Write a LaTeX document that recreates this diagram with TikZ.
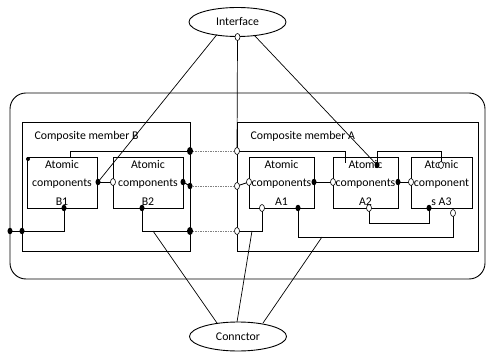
\documentclass[tikz,border=0pt]{standalone}
\usepackage{fontspec}
\setmainfont{Carlito}
\usetikzlibrary{shapes.geometric}
\begin{document}
\begin{tikzpicture}[x=1pt,y=-1pt,
  txt/.style={font=\fontsize{11.8}{18.5}\selectfont},
  frame/.style={draw, line width=0.9pt},
  wire/.style={draw, line width=0.9pt},
  thin/.style={draw, line width=0.7pt},
  link/.style={draw, gray, line width=0.8pt, dash pattern=on 1.5pt off 1pt},
  abox/.style={draw, line width=0.9pt, rectangle, inner sep=0pt, align=center, txt},
  oval/.style={draw, ellipse, line width=0.9pt, minimum width=97pt, minimum height=29pt, inner sep=0pt, txt},
  blk/.style={fill=black, ellipse, inner sep=0pt, minimum width=5pt, minimum height=6.5pt},
  bigblk/.style={fill=black, ellipse, inner sep=0pt, minimum width=6pt, minimum height=8pt},
  opn/.style={draw, fill=white, ellipse, inner sep=0pt, minimum width=5pt, minimum height=7pt, line width=0.6pt},
  tiny/.style={fill=black, circle, inner sep=0pt, minimum size=4pt}]
\useasboundingbox (0,0) rectangle (486,352);

% outer system boundary
\draw[frame, rounded corners=16pt] (10,93) rectangle (485,279);

% composite members
\draw[frame] (22,122) rectangle (190,251);
\draw[frame] (237,122) rectangle (478,251);
\node[txt, anchor=west] (labB) at (31,136) {Composite member B};
\node[txt, anchor=west] (labA) at (247,136) {Composite member A};

% atomic components
\node[abox, minimum width=70pt, minimum height=51pt] (B1) at (62,182.5) {Atomic\\components\\B1};
\node[abox, minimum width=70pt, minimum height=51pt] (B2) at (148,182.5) {Atomic\\components\\B2};
\node[abox, minimum width=65pt, minimum height=51pt] (A1) at (281.5,182.5) {Atomic\\components\\A1};
\node[abox, minimum width=65pt, minimum height=51pt] (A2) at (365.5,182.5) {Atomic\\components\\A2};
\node[abox, minimum width=61pt, minimum height=51pt] (A3) at (441.5,182.5) {Atomic\\component\\s A3};

% interface and connector
\node[oval] (IF) at (237.5,22) {Interface};
\node[oval] (CN) at (238,336.5) {Connctor};

% bend points of the wiring
\coordinate (w1) at (70,151);
\coordinate (w1e) at (70,157);
\coordinate (w2) at (64,231);
\coordinate (w3) at (142,231);
\coordinate (w4) at (345,151);
\coordinate (w4e) at (345,163);
\coordinate (w5) at (377,151);
\coordinate (w6) at (441,151);
\coordinate (w7) at (369,223);
\coordinate (w8) at (429,223);
\coordinate (w9) at (298,237);
\coordinate (w10) at (453,237);
\coordinate (w11) at (262,231);
\coordinate (c1) at (153,231);
\coordinate (c2) at (252,231);
\coordinate (c3) at (322,237);
\coordinate (i1) at (217,34.5);
\coordinate (i3) at (254,35);
\coordinate (k1) at (217,323);
\coordinate (k2) at (237,322);
\coordinate (k3) at (263,323);

% wires inside member B
\draw[wire] (190,151) -- (w1) -- (w1e);
\draw[wire] (98,182) -- (113,182);
\draw[wire] (64,208) -- (w2) -- (10,231);
\draw[wire] (142,208) -- (w3) -- (190,231);
\draw[wire] (183,182) -- (190,186);

% wires inside member A
\draw[wire] (237,151) -- (w4) -- (w4e);
\draw[wire] (237,186) -- (249,182);
\draw[wire] (314,182) -- (333,182);
\draw[wire] (398,182) -- (411,182);
\draw[wire] (377,165) -- (w5) -- (w6) -- (441,165);
\draw[wire] (369,208) -- (w7) -- (w8) -- (429,208);
\draw[wire] (298,208) -- (w9) -- (w10) -- (453,213);
\draw[wire] (262,208) -- (w11) -- (237,231);

% links between the two members
\draw[link] (190,151) -- (237,151);
\draw[link] (190,186) -- (237,186);
\draw[link] (190,231) -- (237,231);

% interface and connector lines
\draw[thin] (i1) -- (98,182);
\draw[thin] (237.5,37) -- (237,151);
\draw[thin] (i3) -- (377,165);
\draw[thin] (k1) -- (c1);
\draw[thin] (k2) -- (c2);
\draw[thin] (k3) -- (c3);

% ports
\node[opn] (pI) at (237.5,37) {};
\node[tiny] (pB1t) at (28,159) {};
\node[blk] (pB1r) at (98,182) {};
\node[blk] (pB1b) at (64,208) {};
\node[opn] (pB2l) at (113,182) {};
\node[blk] (pB2r) at (183,182) {};
\node[blk] (pB2b) at (142,208) {};
\node[bigblk] (eB1) at (190,151) {};
\node[blk] (eB2) at (190,186) {};
\node[bigblk] (eB3) at (190,231) {};
\node[blk] (eBl) at (22,231) {};
\node[blk] (eO) at (10,231) {};
\node[opn] (eA1) at (237,151) {};
\node[opn] (eA2) at (237,186) {};
\node[opn] (eA3) at (237,231) {};
\node[opn] (pA1l) at (249,182) {};
\node[blk] (pA1r) at (314,182) {};
\node[opn] (pA1b) at (262,208) {};
\node[blk] (pA1c) at (298,208) {};
\node[opn] (pA2l) at (333,182) {};
\node[blk] (pA2r) at (398,182) {};
\node[blk] (pA2t) at (377,165) {};
\node[opn] (pA2b) at (369,208) {};
\node[opn] (pA3l) at (411,182) {};
\node[opn] (pA3t) at (441,165) {};
\node[blk] (pA3b) at (429,208) {};
\node[opn] (pA3r) at (453,213) {};
\end{tikzpicture}
\end{document}
